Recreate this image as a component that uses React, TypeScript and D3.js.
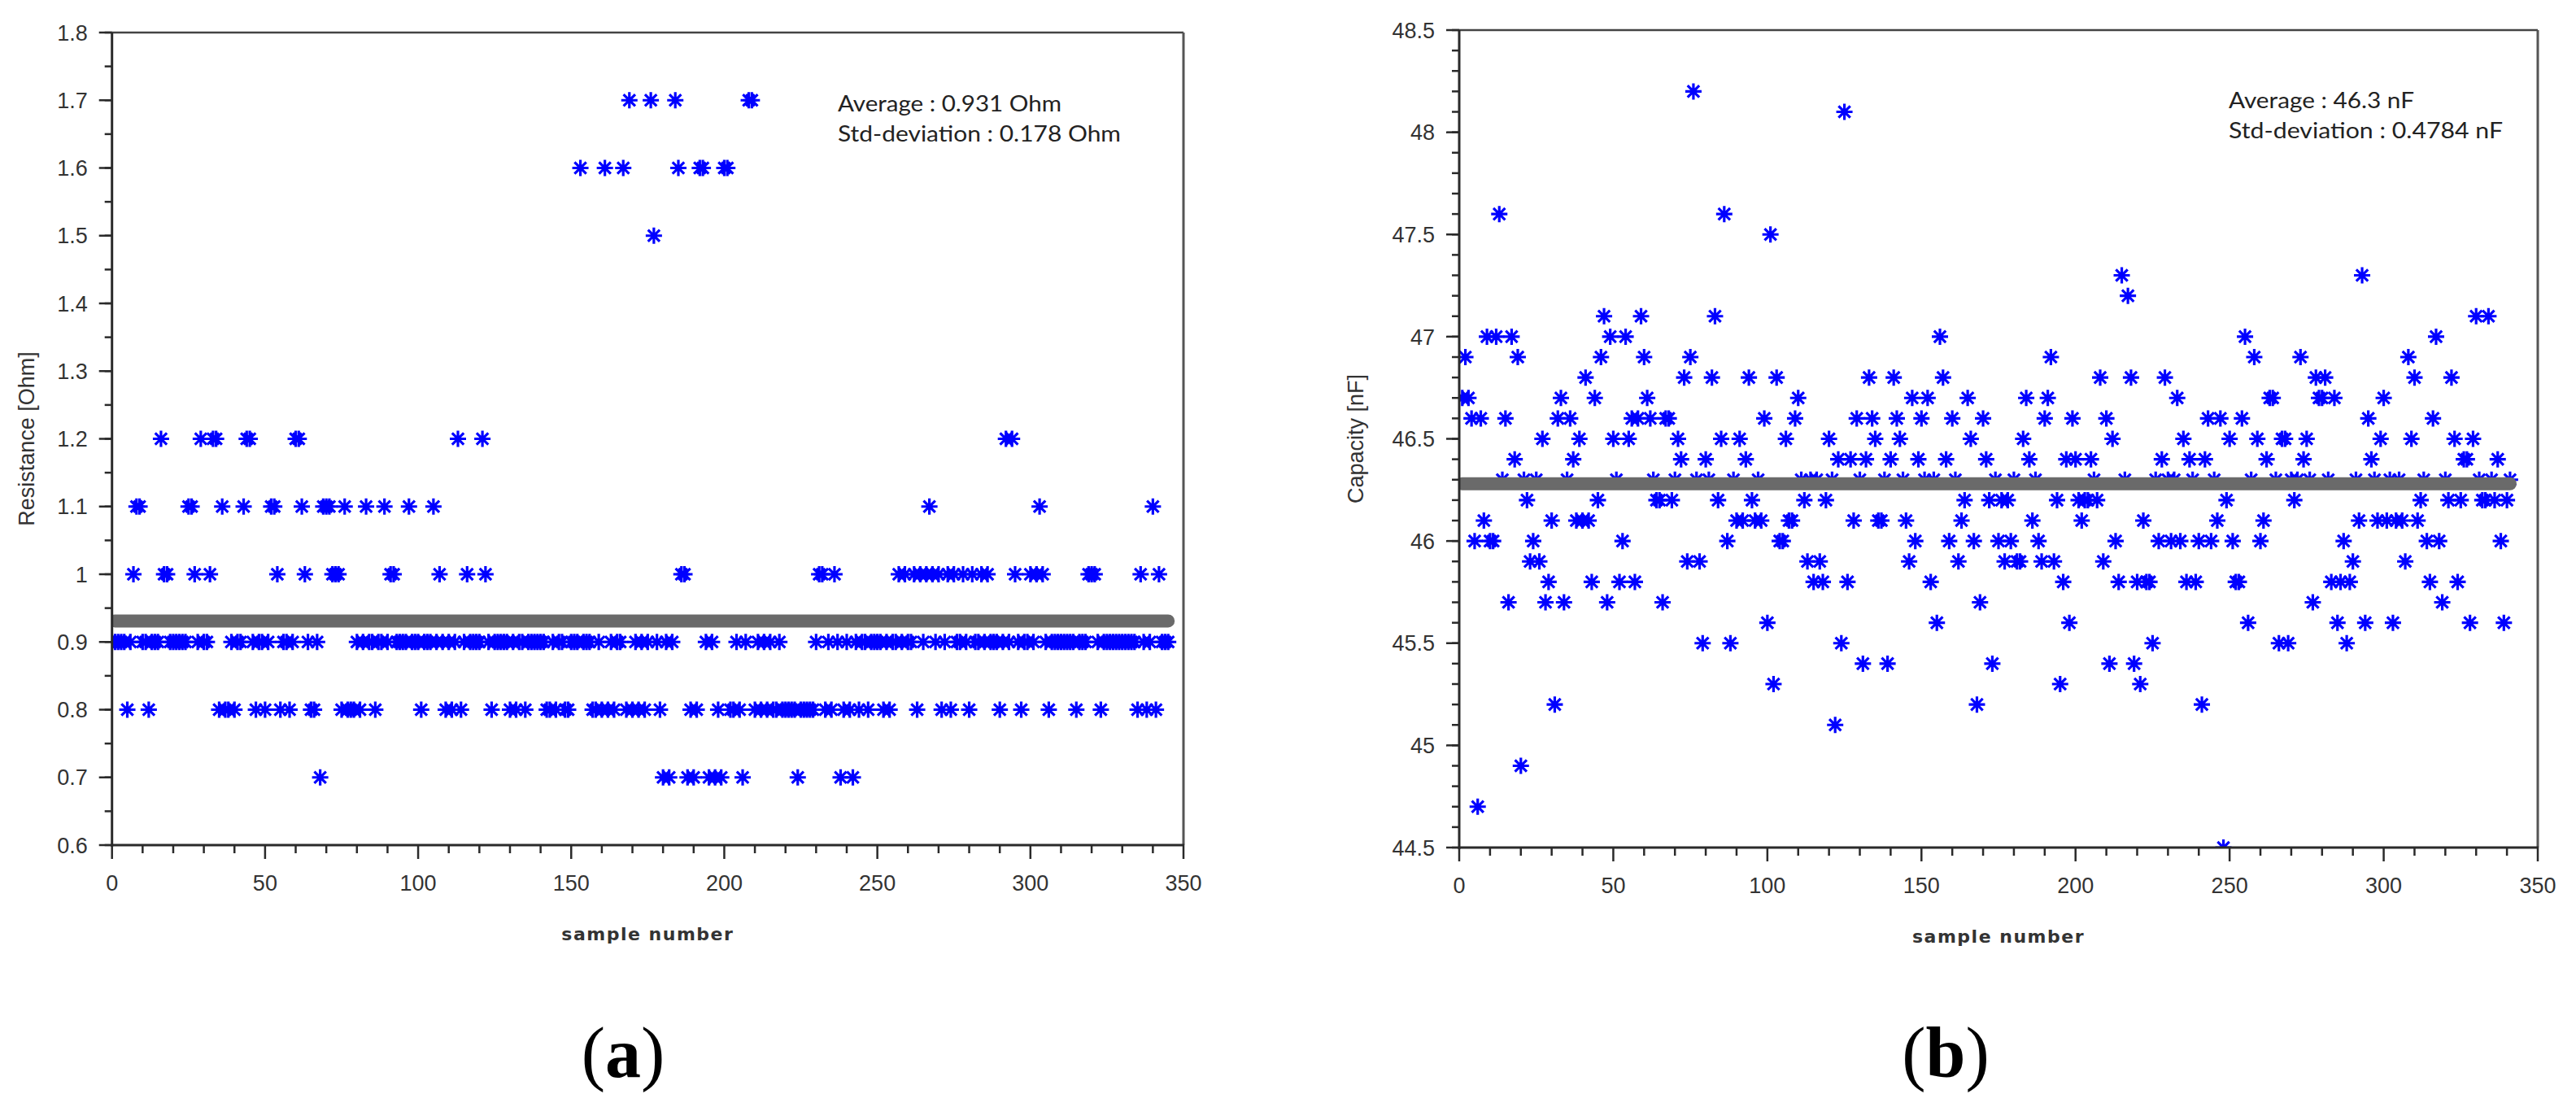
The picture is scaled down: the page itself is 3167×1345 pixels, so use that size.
import React from 'react';
import * as d3 from 'd3';

const sampleTicks = [0, 50, 100, 150, 200, 250, 300, 350];
const resistanceTicks = [0.6, 0.7, 0.8, 0.9, 1.0, 1.1, 1.2, 1.3, 1.4, 1.5, 1.6, 1.7, 1.8];
const capacityTicks = [44.5, 45, 45.5, 46, 46.5, 47, 47.5, 48, 48.5];

// Resistance [Ohm] per sample (sample number = index + 1)
const resistance = [
  0.9, 0.9, 0.9, 0.9, 0.8, 0.9, 1.0, 1.1, 1.1, 0.9,
  0.9, 0.8, 0.9, 0.9, 0.9, 1.2, 1.0, 1.0, 0.9, 0.9,
  0.9, 0.9, 0.9, 0.9, 1.1, 1.1, 1.0, 0.9, 1.2, 0.9,
  0.9, 1.0, 1.2, 1.2, 0.8, 1.1, 0.8, 0.8, 0.9, 0.8,
  0.9, 0.9, 1.1, 1.2, 1.2, 0.9, 0.8, 0.9, 0.9, 0.8,
  0.9, 1.1, 1.1, 1.0, 0.8, 0.9, 0.9, 0.8, 0.9, 1.2,
  1.2, 1.1, 1.0, 0.9, 0.8, 0.8, 0.9, 0.7, 1.1, 1.1,
  1.1, 1.0, 1.0, 1.0, 0.8, 1.1, 0.8, 0.8, 0.8, 0.9,
  0.8, 0.9, 1.1, 0.9, 0.9, 0.8, 0.9, 0.9, 1.1, 0.9,
  1.0, 1.0, 0.9, 0.9, 0.9, 0.9, 1.1, 0.9, 0.9, 0.9,
  0.8, 0.9, 0.9, 0.9, 1.1, 0.9, 1.0, 0.9, 0.8, 0.9,
  0.8, 0.9, 1.2, 0.8, 0.9, 1.0, 0.9, 0.9, 0.9, 0.9,
  1.2, 1.0, 0.9, 0.8, 0.9, 0.9, 0.9, 0.9, 0.9, 0.8,
  0.9, 0.8, 0.9, 0.9, 0.8, 0.9, 0.9, 0.9, 0.9, 0.9,
  0.9, 0.8, 0.8, 0.9, 0.8, 0.9, 0.9, 0.8, 0.8, 0.9,
  0.9, 0.9, 1.6, 0.9, 0.9, 0.9, 0.8, 0.8, 0.9, 0.8,
  1.6, 0.8, 0.9, 0.8, 0.9, 0.9, 1.6, 0.8, 1.7, 0.8,
  0.9, 0.8, 0.9, 0.8, 0.9, 1.7, 1.5, 0.9, 0.8, 0.7,
  0.9, 0.7, 0.9, 1.7, 1.6, 1.0, 1.0, 0.7, 0.8, 0.7,
  0.8, 1.6, 1.6, 0.9, 0.7, 0.9, 0.7, 0.8, 0.7, 1.6,
  1.6, 0.8, 0.8, 0.9, 0.8, 0.7, 0.9, 1.7, 1.7, 0.8,
  0.9, 0.8, 0.9, 0.8, 0.9, 0.8, 0.8, 0.9, 0.8, 0.8,
  0.8, 0.8, 0.8, 0.7, 0.8, 0.8, 0.8, 0.8, 0.8, 0.9,
  1.0, 1.0, 0.8, 0.9, 0.8, 1.0, 0.9, 0.7, 0.8, 0.9,
  0.8, 0.7, 0.9, 0.8, 0.9, 0.9, 0.8, 0.9, 0.9, 0.9,
  0.9, 0.8, 0.9, 0.8, 0.9, 0.9, 1.0, 0.9, 1.0, 0.9,
  0.9, 1.0, 0.8, 1.0, 0.9, 1.0, 1.1, 1.0, 0.9, 1.0,
  0.8, 0.9, 1.0, 0.8, 1.0, 0.9, 0.9, 1.0, 0.9, 0.8,
  1.0, 0.9, 0.9, 1.0, 0.9, 1.0, 0.9, 0.9, 0.9, 0.8,
  0.9, 1.2, 0.9, 1.2, 1.0, 0.9, 0.8, 0.9, 0.9, 1.0,
  0.9, 1.0, 1.1, 1.0, 0.9, 0.8, 0.9, 0.9, 0.9, 0.9,
  0.9, 0.9, 0.9, 0.9, 0.8, 0.9, 0.9, 0.9, 1.0, 1.0,
  1.0, 0.9, 0.8, 0.9, 0.9, 0.9, 0.9, 0.9, 0.9, 0.9,
  0.9, 0.9, 0.9, 0.9, 0.8, 1.0, 0.9, 0.8, 0.9, 1.1,
  0.8, 1.0, 0.9, 0.9, 0.9,
];

// Capacity [nF] per sample (sample number = index + 1)
const capacity = [
  46.7, 46.9, 46.7, 46.6, 46.0, 44.7, 46.6, 46.1, 47.0, 46.0,
  46.0, 47.0, 47.6, 46.3, 46.6, 45.7, 47.0, 46.4, 46.9, 44.9,
  46.3, 46.2, 45.9, 46.0, 46.3, 45.9, 46.5, 45.7, 45.8, 46.1,
  45.2, 46.6, 46.7, 45.7, 46.3, 46.6, 46.4, 46.1, 46.5, 46.1,
  46.8, 46.1, 45.8, 46.7, 46.2, 46.9, 47.1, 45.7, 47.0, 46.5,
  46.3, 45.8, 46.0, 47.0, 46.5, 46.6, 45.8, 46.6, 47.1, 46.9,
  46.7, 46.6, 46.3, 46.2, 46.2, 45.7, 46.6, 46.6, 46.2, 46.3,
  46.5, 46.4, 46.8, 45.9, 46.9, 48.2, 46.3, 45.9, 45.5, 46.4,
  46.3, 46.8, 47.1, 46.2, 46.5, 47.6, 46.0, 45.5,
  46.3, 46.1, 46.5, 46.1, 46.4, 46.8, 46.2, 46.1, 46.3, 46.1,
  46.6, 45.6, 47.5, 45.3, 46.8, 46.0, 46.0, 46.5, 46.1, 46.1,
  46.6, 46.7, 46.3, 46.2, 45.9, 46.3, 45.8, 46.3, 45.9, 45.8,
  46.2, 46.5, 46.3, 45.1, 46.4, 45.5, 48.1, 45.8, 46.4, 46.1,
  46.6, 46.3, 45.4, 46.4, 46.8, 46.6, 46.5, 46.1, 46.1, 46.3,
  45.4, 46.4, 46.8, 46.6, 46.5, 46.3, 46.1, 45.9, 46.7, 46.0,
  46.4, 46.6, 46.3, 46.7, 45.8, 46.3, 45.6, 47.0, 46.8, 46.4,
  46.0, 46.6, 46.3, 45.9, 46.1, 46.2, 46.7, 46.5, 46.0, 45.2,
  45.7, 46.6, 46.4, 46.2, 45.4, 46.3, 46.0, 46.2, 45.9,
  46.2, 46.0, 46.3, 45.9, 45.9, 46.5, 46.7, 46.4, 46.1, 46.3,
  46.0, 45.9, 46.6, 46.7, 46.9, 45.9, 46.2, 45.3, 45.8, 46.4,
  45.6, 46.6, 46.4, 46.2, 46.1, 46.2, 46.2, 46.4, 46.3, 46.2,
  46.8, 45.9, 46.6, 45.4, 46.5, 46.0, 45.8, 47.3, 46.3, 47.2,
  46.8, 45.4, 45.8, 45.3, 46.1, 45.8, 45.8, 45.5, 46.3, 46.0,
  46.4, 46.8, 46.3, 46.0, 46.3, 46.7, 46.0, 46.5, 45.8, 46.4,
  46.3, 45.8, 46.0, 45.2, 46.4, 46.6, 46.0, 46.3, 46.1, 46.6,
  44.5, 46.2, 46.5, 46.0, 45.8, 45.8, 46.6, 47.0, 45.6, 46.3,
  46.9, 46.5, 46.0, 46.1, 46.4, 46.7, 46.7, 46.3, 45.5, 46.5,
  46.5, 45.5, 46.3, 46.2, 46.3, 46.9, 46.4, 46.5, 46.3, 45.7,
  46.8, 46.7, 46.7, 46.8, 46.3, 45.8, 46.7, 45.6, 45.8, 46.0,
  45.5, 45.8, 45.9, 46.3, 46.1, 47.3, 45.6, 46.6, 46.4, 46.3,
  46.1, 46.5, 46.7, 46.1, 46.3, 45.6, 46.1, 46.3, 46.1, 45.9,
  46.9, 46.5, 46.8, 46.1, 46.2, 46.3, 46.0, 45.8, 46.6, 47.0,
  46.0, 45.7, 46.3, 46.2, 46.8, 46.5, 45.8, 46.2, 46.4, 46.4,
  45.6, 46.5, 47.1, 46.3, 46.2, 46.2, 47.1, 46.3, 46.2, 46.4,
  46.0, 45.6, 46.2, 46.3,
];

const resistanceMean = 0.931;
const capacityMean = 46.28;
const resistanceNotes = ['Average : 0.931 Ohm', 'Std-deviation : 0.178 Ohm'];
const capacityNotes = ['Average : 46.3 nF', 'Std-deviation : 0.4784 nF'];

const STAR = 'M-10,0H10M0,-10V10M-7.2,-7.2L7.2,7.2M-7.2,7.2L7.2,-7.2';

type PanelProps = {
  id: string;
  left: number; right: number; top: number; bottom: number;
  yDomain: [number, number];
  yTicks: number[];
  yMinorStep: number;
  values: number[];
  mean: number;
  ylabel: string;
  titleX: number;
  notes: string[];
  noteX: number;
  noteY: number[];
  noteLen: number[];
  tag: string;
  tagX: number;
};

function Panel(p: PanelProps) {
  const x = d3.scaleLinear().domain([0, 350]).range([p.left, p.right]);
  const y = d3.scaleLinear().domain(p.yDomain).range([p.bottom, p.top]);
  const xMinor = d3.range(0, 351, 10).filter((v) => v % 50 !== 0);
  const nMinor = Math.round((p.yDomain[1] - p.yDomain[0]) / p.yMinorStep);
  const yMinor = d3.range(nMinor + 1).map((i) => p.yDomain[0] + i * p.yMinorStep);
  const meanLine = d3.line<number>().x((d) => x(d)).y(() => y(p.mean))([1, p.values.length]);
  const axisColor = '#2a2a2a';
  const tickFont = { fontFamily: '"Liberation Sans", Arial, sans-serif', fontSize: 27, fill: '#333' };
  const fmt = (v: number) => String(Math.round(v * 100) / 100);
  return (
    <g>
      <defs>
        <clipPath id={p.id}>
          <rect x={p.left} y={p.top} width={p.right - p.left} height={p.bottom - p.top} />
        </clipPath>
      </defs>
      <g clipPath={`url(#${p.id})`}>
        {p.values.map((v, i) => (
          <g key={i} transform={`translate(${x(i + 1)},${y(v)})`}>
            <path d={STAR} stroke="#0000ff" strokeWidth={3.2} fill="none" />
            <circle r={3.8} fill="#0000ff" />
          </g>
        ))}
        <path d={meanLine || ''} stroke="#6a6a6a" strokeWidth={16} strokeLinecap="round" fill="none" />
      </g>
      <line x1={p.left} x2={p.right} y1={p.top} y2={p.top} stroke="#444" strokeWidth={2.5} />
      <line x1={p.right} x2={p.right} y1={p.top} y2={p.bottom} stroke="#555" strokeWidth={3} />
      <line x1={p.left} x2={p.left} y1={p.top} y2={p.bottom + 2} stroke={axisColor} strokeWidth={3} />
      <line x1={p.left} x2={p.right + 1} y1={p.bottom} y2={p.bottom} stroke={axisColor} strokeWidth={3} />
      {yMinor.map((v, i) => (
        <line key={'ym' + i} x1={p.left - 9} x2={p.left} y1={y(v)} y2={y(v)} stroke={axisColor} strokeWidth={2.5} />
      ))}
      {p.yTicks.map((v) => (
        <g key={'y' + v}>
          <line x1={p.left - 16} x2={p.left} y1={y(v)} y2={y(v)} stroke={axisColor} strokeWidth={2.5} />
          <text x={p.left - 30} y={y(v)} dy="0.36em" textAnchor="end" {...tickFont}>{fmt(v)}</text>
        </g>
      ))}
      {xMinor.map((v) => (
        <line key={'xm' + v} x1={x(v)} x2={x(v)} y1={p.bottom} y2={p.bottom + 10} stroke={axisColor} strokeWidth={2.5} />
      ))}
      {sampleTicks.map((v) => (
        <g key={'x' + v}>
          <line x1={x(v)} x2={x(v)} y1={p.bottom} y2={p.bottom + 17} stroke={axisColor} strokeWidth={2.5} />
          <text x={x(v)} y={p.bottom + 56} textAnchor="middle" {...tickFont}>{v}</text>
        </g>
      ))}
      <text x={(p.left + p.right) / 2} y={p.bottom + 117} textAnchor="middle"
        style={{ fontFamily: '"DejaVu Sans", Verdana, sans-serif', fontWeight: 'bold', letterSpacing: '1.5px' }}
        fontSize={22} fill="#333">sample number</text>
      <text transform={`translate(${p.titleX},${(p.top + p.bottom) / 2}) rotate(-90)`} dy="0.36em" textAnchor="middle"
        fontFamily='"Liberation Sans", Arial, sans-serif' fontSize={27} fill="#333">{p.ylabel}</text>
      {p.notes.map((t, i) => (
        <text key={'n' + i} x={p.noteX} y={p.noteY[i]} fontFamily='Lato, "Open Sans", sans-serif' fontSize={26}
          fill="#222" textLength={p.noteLen[i]} lengthAdjust="spacingAndGlyphs">{t}</text>
      ))}
      <text x={p.tagX} y={1324} textAnchor="middle" fontFamily='"Liberation Serif", "Times New Roman", serif' fontSize={88} fill="#000">
        (<tspan fontWeight="bold">{p.tag}</tspan>)
      </text>
    </g>
  );
}

export default function App() {
  return (
    <svg width={3167} height={1345} style={{ position: 'absolute', left: 0, top: 0, display: 'block' }}>
      <rect x={0} y={0} width={3167} height={1345} fill="#fff" />
      <Panel id="clipA" left={137.7} right={1455} top={40} bottom={1039}
        yDomain={[0.6, 1.8]} yTicks={resistanceTicks} yMinorStep={0.05}
        values={resistance} mean={resistanceMean} ylabel="Resistance [Ohm]" titleX={32}
        notes={resistanceNotes} noteX={1030} noteY={[137, 174]} noteLen={[275, 348]}
        tag="a" tagX={766} />
      <Panel id="clipB" left={1794} right={3120} top={37} bottom={1042}
        yDomain={[44.5, 48.5]} yTicks={capacityTicks} yMinorStep={0.1}
        values={capacity} mean={capacityMean} ylabel="Capacity [nF]" titleX={1666}
        notes={capacityNotes} noteX={2740} noteY={[133, 170]} noteLen={[228, 337]}
        tag="b" tagX={2392} />
    </svg>
  );
}
